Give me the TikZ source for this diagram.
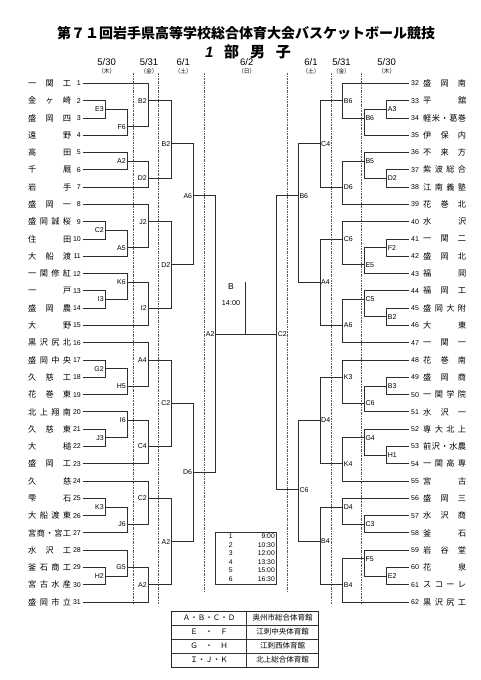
\documentclass[tikz,border=0pt]{standalone}
\usepackage{fontspec}
\setmainfont{Liberation Sans}
\newfontfamily\jp{Noto Sans CJK JP}
\def\spread#1{\spreadi#1\endspread}
\def\spreadi#1#2\endspread{#1\if\relax\detokenize{#2}\relax\else\hfill\spreadi#2\endspread\fi}
\newcommand\tL[2]{%
  \coordinate (t#1) at (83,#1);
  \node[tno,anchor=east] (no#1) at (81,#1) {#1};
  \node[tnm] (nm#1) at (28,#1) {\hbox to 43pt{\spread{#2}}};}
\newcommand\tR[2]{%
  \pgfmathtruncatemacro\rr{#1-31}%
  \coordinate (t#1) at (409,\rr);
  \node[tno,anchor=west] (no#1) at (411,\rr) {#1};
  \node[tnm] (nm#1) at (423,\rr) {\hbox to 43pt{\spread{#2}}};}
\newcommand\mL[6]{%
  \coordinate (#1) at (#2,#3);
  \draw[br] (#4) -- (#4 -| #1) -- (#5 -| #1) -- (#5);
  \node[lblL] (#1-l) at (#1) {#6};}
\newcommand\mR[6]{%
  \coordinate (#1) at (#2,#3);
  \draw[br] (#4) -- (#4 -| #1) -- (#5 -| #1) -- (#5);
  \node[lblR] (#1-l) at (#1) {#6};}
\begin{document}
\begin{tikzpicture}[x=1pt,y=-1pt,
  br/.style={draw=black!82,line width=0.95pt},
  sep/.style={draw=black!65,line width=0.5pt,dash pattern=on 2pt off 1pt on 0.6pt off 1pt},
  lblL/.style={font=\fontsize{7}{8}\selectfont,anchor=east,inner sep=1pt},
  lblR/.style={font=\fontsize{7}{8}\selectfont,anchor=west,inner sep=1pt},
  tnm/.style={font=\jp\fontsize{8.2}{9}\selectfont,inner sep=0pt,anchor=west},
  tno/.style={font=\fontsize{7}{7}\selectfont,inner sep=0pt},
  hd/.style={font=\fontsize{9.5}{10}\selectfont,inner sep=0pt},
  hdj/.style={font=\jp\fontsize{5.8}{6}\selectfont,inner sep=0pt},
  sch/.style={font=\fontsize{6.8}{7}\selectfont,inner sep=0pt},
  ven/.style={font=\jp\fontsize{7.5}{8}\selectfont,inner sep=0pt}]
\fill[white] (0,0) rectangle (481,680);
\useasboundingbox (0,0) rectangle (481,680);
% titles
\node[font=\jp\bfseries\fontsize{14}{16}\selectfont,inner sep=0pt] (title) at (246,33) {第７１回岩手県高等学校総合体育大会バスケットボール競技};
\node[inner sep=0pt] (sub) at (248,51.5) {\hbox to 86pt{\fontsize{15}{16}\selectfont\bfseries\itshape 1\hfill\jp\upshape 部\hfill 男\hfill 子}};
% date headers
\node[hd] (d1) at (106.7,62) {5/30}; \node[hdj] (w1) at (106.7,71) {（木）};
\node[hd] (d2) at (149,62) {5/31};   \node[hdj] (w2) at (149,71) {（金）};
\node[hd] (d3) at (183.3,62) {6/1};  \node[hdj] (w3) at (183.3,71) {（土）};
\node[hd] (d4) at (246.7,62) {6/2};  \node[hdj] (w4) at (246.7,71) {（日）};
\node[hd] (d5) at (311,62) {6/1};    \node[hdj] (w5) at (311,71) {（土）};
\node[hd] (d6) at (341.5,62) {5/31}; \node[hdj] (w6) at (341.5,71) {（金）};
\node[hd] (d7) at (386.7,62) {5/30}; \node[hdj] (w7) at (386.7,71) {（木）};
% separators
\foreach \sx in {133,158.3,331,361.3} \draw[sep] (\sx,73) -- (\sx,604);
\foreach \sx in {204,287.5} \draw[sep] (\sx,73) -- (\sx,592);
\begin{scope}[yshift=-66.11pt,y=-17.29pt]
\tL{1}{一関工}
\tL{2}{金ヶ崎}
\tL{3}{盛岡四}
\tL{4}{遠野}
\tL{5}{高田}
\tL{6}{千厩}
\tL{7}{岩手}
\tL{8}{盛岡一}
\tL{9}{盛岡誠桜}
\tL{10}{住田}
\tL{11}{大船渡}
\tL{12}{一関修紅}
\tL{13}{一戸}
\tL{14}{盛岡農}
\tL{15}{大野}
\tL{16}{黒沢尻北}
\tL{17}{盛岡中央}
\tL{18}{久慈工}
\tL{19}{花巻東}
\tL{20}{北上翔南}
\tL{21}{久慈東}
\tL{22}{大槌}
\tL{23}{盛岡工}
\tL{24}{久慈}
\tL{25}{雫石}
\tL{26}{大船渡東}
\tL{27}{宮商・宮工}
\tL{28}{水沢工}
\tL{29}{釜石商工}
\tL{30}{宮古水産}
\tL{31}{盛岡市立}
\tR{32}{盛岡南}
\tR{33}{平舘}
\tR{34}{軽米・葛巻}
\tR{35}{伊保内}
\tR{36}{不来方}
\tR{37}{紫波総合}
\tR{38}{江南義塾}
\tR{39}{花巻北}
\tR{40}{水沢}
\tR{41}{一関二}
\tR{42}{盛岡北}
\tR{43}{福岡}
\tR{44}{福岡工}
\tR{45}{盛岡大附}
\tR{46}{大東}
\tR{47}{一関一}
\tR{48}{花巻南}
\tR{49}{盛岡商}
\tR{50}{一関学院}
\tR{51}{水沢一}
\tR{52}{専大北上}
\tR{53}{前沢・水農}
\tR{54}{一関高専}
\tR{55}{宮古}
\tR{56}{盛岡三}
\tR{57}{水沢商}
\tR{58}{釜石}
\tR{59}{岩谷堂}
\tR{60}{花泉}
\tR{61}{スコーレ}
\tR{62}{黒沢尻工}
% left matches
\mL{E3}{105}{2.5}{t2}{t3}{E3}
\mL{F6}{127}{3.5}{E3}{t4}{F6}
\mL{B2a}{148}{2}{t1}{F6}{B2}
\mL{A2a}{127}{5.5}{t5}{t6}{A2}
\mL{D2a}{148}{6.5}{A2a}{t7}{D2}
\mL{B2b}{171.5}{4.5}{B2a}{D2a}{B2}
\mL{C2a}{105}{9.5}{t9}{t10}{C2}
\mL{A5}{127}{10.5}{C2a}{t11}{A5}
\mL{J2}{148}{9}{t8}{A5}{J2}
\mL{I3}{105}{13.5}{t13}{t14}{I3}
\mL{K6}{127}{12.5}{t12}{I3}{K6}
\mL{I2}{148}{14}{K6}{t15}{I2}
\mL{D2b}{171.5}{11.5}{J2}{I2}{D2}
\mL{A6}{193.3}{7.5}{B2b}{D2b}{A6}
\mL{G2}{105}{17.5}{t17}{t18}{G2}
\mL{H5}{127}{18.5}{G2}{t19}{H5}
\mL{A4}{148}{17}{t16}{H5}{A4}
\mL{J3}{105}{21.5}{t21}{t22}{J3}
\mL{I6}{127}{20.5}{t20}{J3}{I6}
\mL{C4}{148}{22}{I6}{t23}{C4}
\mL{C2b}{171.5}{19.5}{A4}{C4}{C2}
\mL{K3}{105}{25.5}{t25}{t26}{K3}
\mL{J6}{127}{26.5}{K3}{t27}{J6}
\mL{C2c}{148}{25}{t24}{J6}{C2}
\mL{H2}{105}{29.5}{t29}{t30}{H2}
\mL{G5}{127}{29}{t28}{H2}{G5}
\mL{A2b}{148}{30}{G5}{t31}{A2}
\mL{A2c}{171.5}{27.5}{C2c}{A2b}{A2}
\mL{D6}{193.3}{23.5}{C2b}{A2c}{D6}
\mL{A2d}{215.7}{15.5}{A6}{D6}{A2}
% right matches
\mR{A3r}{386.7}{2.5}{t33}{t34}{A3}
\mR{B6ar}{364.3}{3}{A3r}{t35}{B6}
\mR{B6br}{342.7}{2}{t32}{B6ar}{B6}
\mR{D2r}{386.7}{6.5}{t37}{t38}{D2}
\mR{B5r}{364.3}{5.5}{t36}{D2r}{B5}
\mR{D6r}{342.7}{7}{B5r}{t39}{D6}
\mR{C4r}{320}{4.5}{B6br}{D6r}{C4}
\mR{F2r}{386.7}{10.5}{t41}{t42}{F2}
\mR{E5r}{364.3}{11.5}{F2r}{t43}{E5}
\mR{C6ar}{342.7}{10}{t40}{E5r}{C6}
\mR{B2r}{386.7}{14.5}{t45}{t46}{B2}
\mR{C5r}{364.3}{13.5}{t44}{B2r}{C5}
\mR{A6r}{342.7}{15}{C5r}{t47}{A6}
\mR{A4r}{320}{12.5}{C6ar}{A6r}{A4}
\mR{B6cr}{298.3}{7.5}{C4r}{A4r}{B6}
\mR{B3r}{386.7}{18.5}{t49}{t50}{B3}
\mR{C6br}{364.3}{19.5}{B3r}{t51}{C6}
\mR{K3r}{342.7}{18}{t48}{C6br}{K3}
\mR{H1r}{386.7}{22.5}{t53}{t54}{H1}
\mR{G4r}{364.3}{21.5}{t52}{H1r}{G4}
\mR{K4r}{342.7}{23}{G4r}{t55}{K4}
\mR{D4ar}{320}{20.5}{K3r}{K4r}{D4}
\mR{C3r}{364.3}{26.5}{t57}{t58}{C3}
\mR{D4br}{342.7}{25.5}{t56}{C3r}{D4}
\mR{E2r}{386.7}{29.5}{t60}{t61}{E2}
\mR{F5r}{364.3}{28.5}{t59}{E2r}{F5}
\mR{B4ar}{342.7}{30}{F5r}{t62}{B4}
\mR{B4br}{320}{27.5}{D4br}{B4ar}{B4}
\mR{C6cr}{298.3}{24.5}{D4ar}{B4br}{C6}
\mR{C2r}{276.7}{15.5}{B6cr}{C6cr}{C2}
\end{scope}
% final
\draw[br] (A2d) -- (C2r);
\coordinate (ftop) at (245.7,282);
\draw[br] (ftop) -- (ftop |- A2d);
\node[font=\fontsize{8.5}{9}\selectfont,inner sep=0pt] (fb) at (231,287) {B};
\node[font=\fontsize{7.2}{8}\selectfont,inner sep=0pt] (ft) at (231,303) {14:00};
% schedule box
\draw[draw=black!80,line width=0.7pt] (215.7,532) rectangle (276.7,584);
\foreach \n/\t [count=\i] in {1/9:00,2/10:30,3/12:00,4/13:30,5/15:00,6/16:30}{
  \node[sch] (sn\i) at (230.7,{536.5+(\i-1)*8.5}) {\n};
  \node[sch,anchor=east] (st\i) at (275,{536.5+(\i-1)*8.5}) {\t};}
% venue table
\draw[draw=black!85,line width=1pt] (171.7,611) rectangle (318.3,667);
\foreach \yy in {625,639,653} \draw[draw=black!80,line width=0.6pt] (171.7,\yy) -- (318.3,\yy);
\draw[draw=black!80,line width=0.6pt] (246,611) -- (246,667);
\foreach \a/\b [count=\i] in {Ａ・Ｂ・Ｃ・Ｄ/奥州市総合体育館,Ｅ　・　Ｆ/江刺中央体育館,Ｇ　・　Ｈ/江刺西体育館,Ｉ・Ｊ・Ｋ/北上総合体育館}{
  \node[ven] (va\i) at (209,{618+(\i-1)*14}) {\a};
  \node[ven] (vb\i) at (282.5,{618+(\i-1)*14}) {\b};}
\end{tikzpicture}
\end{document}
